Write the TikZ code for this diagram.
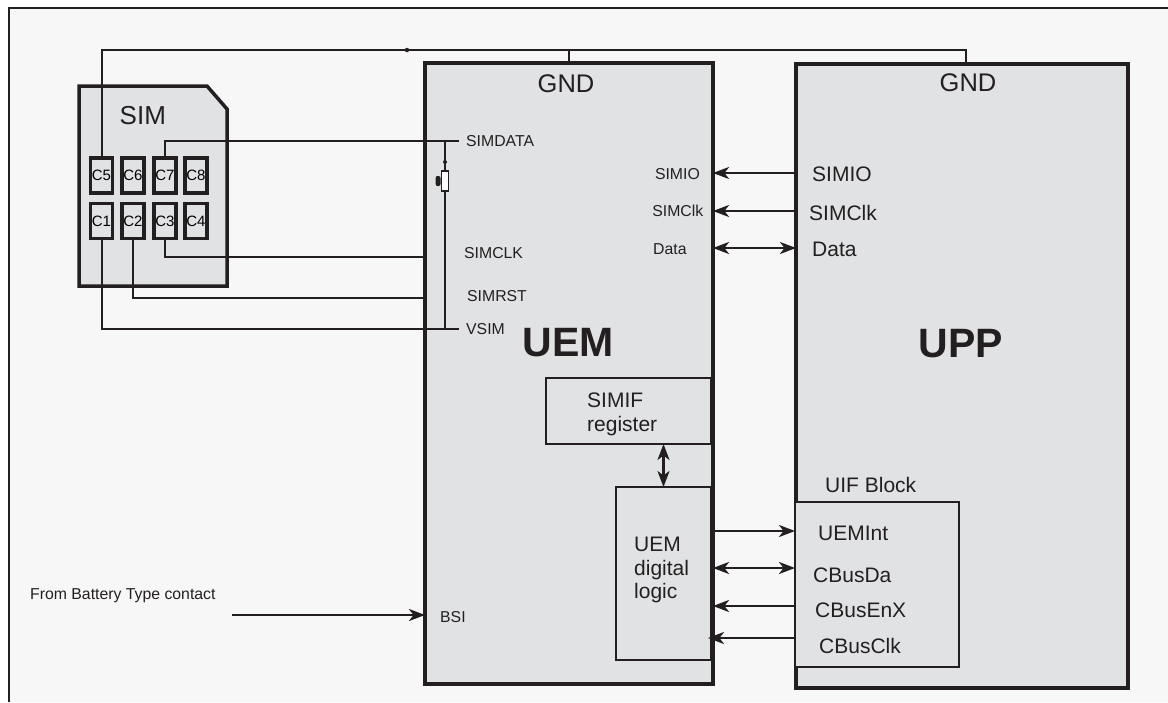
\documentclass[tikz,border=0pt]{standalone}
\usepackage{fontspec}
\setmainfont{Liberation Sans}
\usepackage{tikz}
\usetikzlibrary{arrows.meta}
\definecolor{ink}{RGB}{35,31,32}
\definecolor{boxgray}{RGB}{225,226,228}
\definecolor{paper}{RGB}{247,247,247}
\tikzstyle{block} = [rectangle, draw=ink, fill=boxgray, line width=3.5pt, inner sep=0, outer sep=0]
\tikzstyle{subblock} = [rectangle, draw=ink, fill=boxgray, line width=2pt, inner sep=0, outer sep=0]
\tikzstyle{contact} = [rectangle, draw=ink, fill=boxgray, line width=3.2pt, minimum width=22pt, minimum height=35pt, inner sep=0, font=\fontsize{15}{16}\selectfont]
\tikzstyle{lbl} = [inner sep=0, anchor=base west, text=ink, font=\fontsize{15.8}{18}\selectfont]
\tikzstyle{mlbl} = [inner sep=0, anchor=base west, text=ink, font=\fontsize{21}{24}\selectfont]
\tikzstyle{glbl} = [inner sep=0, anchor=base west, text=ink, font=\fontsize{25.5}{30}\selectfont]
\tikzstyle{big} = [inner sep=0, anchor=base, text=ink, font=\bfseries\fontsize{41}{48}\selectfont]
\tikzstyle{wire} = [draw=ink, line width=2pt]
\tikzstyle{arr} = [wire, line width=2.3pt, -{Stealth[length=16pt,width=12pt,inset=4.5pt]}]
\tikzstyle{darr} = [wire, line width=2.3pt, {Stealth[length=16pt,width=12pt,inset=4.5pt]}-{Stealth[length=16pt,width=12pt,inset=4.5pt]}]
\tikzstyle{dot} = [circle, fill=ink, inner sep=0, minimum size=4.5pt]

\begin{document}
\begin{tikzpicture}[x=1pt,y=-1pt]
    \useasboundingbox (0,0) rectangle (1168,702);
    \fill[paper] (9,8) rectangle (1168,702);
    \draw[ink, line width=2.5pt] (9,702) -- (9,8) -- (1168,8);

    % SIM card and its contacts
    \draw[ink, fill=boxgray, line width=3.5pt] (79,86) -- (207,86) -- (227,109) -- (227,286) -- (79,286) -- cycle;
    \node [glbl, font=\fontsize{26}{30}\selectfont] (sim) at (119.5,124) {SIM};
    \foreach \n/\x/\y in {5/101.5/175.5, 6/133/175.5, 7/165/175.5, 8/196/175.5,
                          1/101.5/221, 2/133/221, 3/165/221, 4/196/221}
        \node [contact] (c\n) at (\x,\y) {C\n};

    % chips
    \node [block, minimum width=288pt, minimum height=621pt] (uem) at (569,373.5) {};
    \node [block, minimum width=332pt, minimum height=624pt] (upp) at (962,376) {};
    \node [subblock, minimum width=165pt, minimum height=66pt] (simif) at (628.5,411) {};
    \node [subblock, minimum width=95pt, minimum height=173pt] (logic) at (663.5,573.5) {};
    \node [subblock, line width=2.5pt, minimum width=164pt, minimum height=165pt] (uif) at (877,584.5) {};

    % pin names
    \node [glbl, anchor=base] (uemgnd) at (566,92.5) {GND};
    \node [glbl, anchor=base] (uppgnd) at (968,91) {GND};
    \node [lbl] (simdata) at (466,146) {SIMDATA};
    \node [lbl] (simclk) at (464,258) {SIMCLK};
    \node [lbl] (simrst) at (467,301.5) {SIMRST};
    \node [lbl] (vsim) at (466,334) {VSIM};
    \node [lbl, anchor=base east] (uemio) at (700,179) {SIMIO};
    \node [lbl, anchor=base east] (uemclk) at (703.5,216) {SIMClk};
    \node [lbl] (uemdata) at (653,254) {Data};
    \node [mlbl] (uppio) at (812,181) {SIMIO};
    \node [mlbl] (uppclk) at (809,220) {SIMClk};
    \node [mlbl] (uppdata) at (812,256) {Data};
    \node [big] (uemname) at (568,356) {UEM};
    \node [big] (uppname) at (961,357) {UPP};
    \node [mlbl, align=left, anchor=west] (simiftxt) at (587,414.7) {SIMIF\\register};
    \node [mlbl, align=left, anchor=west, font=\fontsize{21}{23.5}\selectfont] (logictxt) at (634,570) {UEM\\digital\\logic};
    \node [mlbl] (uifname) at (825,492) {UIF Block};
    \node [mlbl] (uemint) at (818,540) {UEMInt};
    \node [mlbl] (cbusda) at (813,582) {CBusDa};
    \node [mlbl] (cbusenx) at (815,617) {CBusEnX};
    \node [mlbl] (cbusclk) at (819,653) {CBusClk};
    \node [lbl] (battlbl) at (30,599.5) {From Battery Type contact};
    \node [lbl] (bsi) at (440,622) {BSI};
    \coordinate (batt) at (232,615);
    \coordinate (gnd) at (569,50);

    % ground bus
    \draw [wire] (c5.north) |- (gnd) -| ([xshift=4pt]upp.north);
    \draw [wire] (gnd) -- (uem.north);
    \node [dot] (tap) at (407,50) {};

    % SIM <-> UEM
    \draw [wire] (c7.north) |- ([xshift=-7pt]simdata.west);
    \draw [wire] (c3.south) |- (uem.west |- 0,257);
    \draw [wire] (c2.south) |- (uem.west |- 0,298);
    \draw [wire] (c1.south) |- ([xshift=-7pt]vsim.west);
    % pull-up
    \node [rectangle, draw=ink, fill=white, line width=1.5pt, minimum width=7pt, minimum height=20pt, inner sep=0] (r1) at (445,181) {};
    \draw [wire, line width=1.6pt] (r1.north) -- (r1.north |- simdata.west);
    \draw [wire, line width=1.6pt] (r1.south) -- (r1.south |- vsim.west);
    \node [dot, minimum size=4pt] (rdot) at (445,162) {};
    \node [fill=ink, rounded corners=2pt, minimum width=5pt, minimum height=10pt, inner sep=0, anchor=east] (wiper) at (r1.west) {};

    % UPP -> UEM
    \draw [arr] (upp.west |- 0,173) -- (uem.east |- 0,173);
    \draw [arr] (upp.west |- 0,211) -- (uem.east |- 0,211);
    \draw [darr] (uem.east |- 0,248) -- (upp.west |- 0,248);
    \draw [darr] (logic.north |- simif.south) -- (logic.north);
    % UEM <-> UIF block
    \draw [arr] (uem.east |- 0,531) -- (uif.west |- 0,531);
    \draw [darr] (uem.east |- 0,568) -- (uif.west |- 0,568);
    \draw [arr] (uif.west |- 0,606) -- (uem.east |- 0,606);
    \draw [arr] (uif.west |- 0,638) -- ([xshift=-5pt]uem.east |- 0,638);
    % battery
    \draw [arr] (batt) -- (uem.west |- 0,615);
\end{tikzpicture}
\end{document}
